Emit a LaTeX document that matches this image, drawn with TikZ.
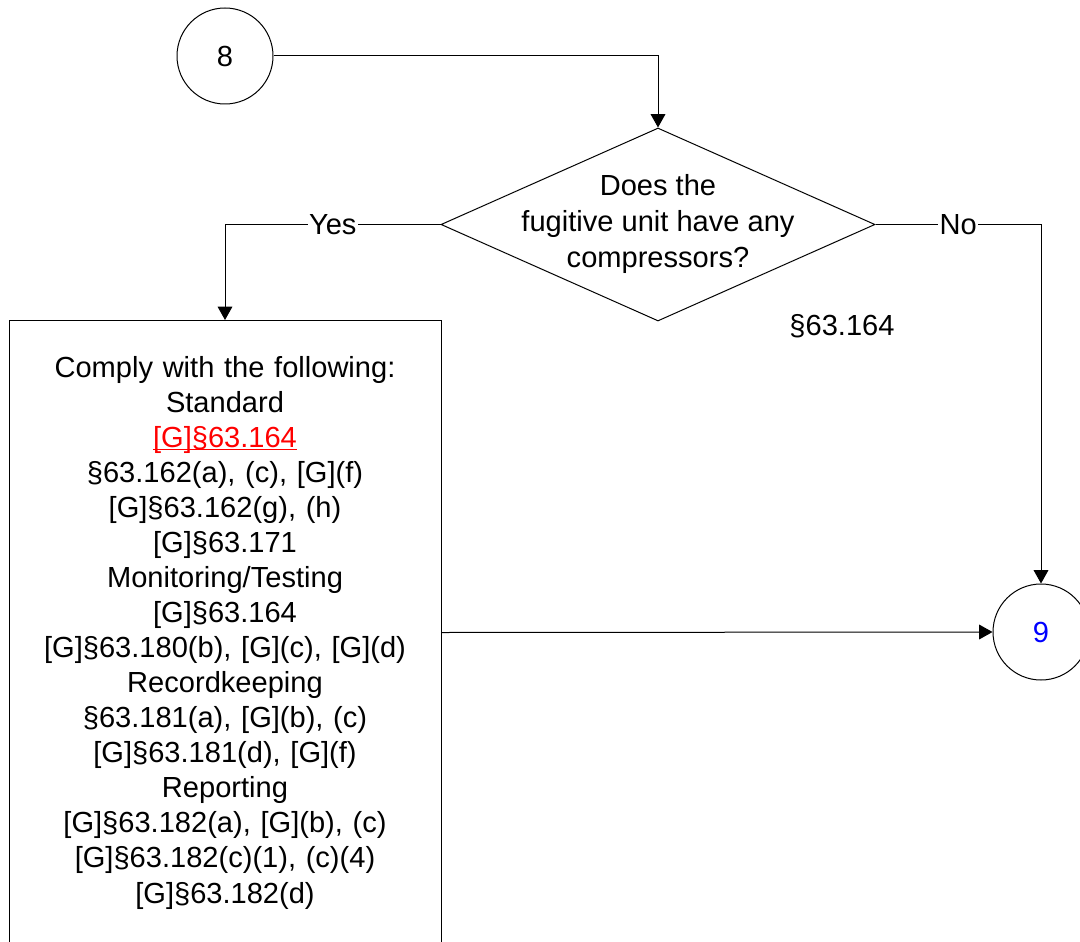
\documentclass[tikz,border=0pt]{standalone}
\usepackage{fontspec}
\setmainfont{Liberation Sans}
\usetikzlibrary{shapes.geometric,arrows.meta}
\newcommand\myredul[1]{\leavevmode{\color{red}\setbox0\hbox{#1}\rlap{\rule[-2.4pt]{\wd0}{1pt}}\box0}}
\begin{document}
\begin{tikzpicture}[x=0.75pt,y=-0.75pt,
  every node/.style={font=\fontsize{21.8}{26.3}\selectfont},
  conn/.style={draw, line width=0.75pt, -{Triangle[length=10pt,width=11pt]}},
  circ/.style={circle, draw, line width=0.75pt, minimum size=72pt, inner sep=0pt},
  lbl/.style={fill=white, inner sep=1pt},
  decision/.style={diamond, draw, line width=0.75pt, aspect=2.25, minimum width=325.5pt, minimum height=144.75pt, inner sep=0pt},
  actionbox/.style={rectangle, draw, line width=0.75pt, minimum width=324pt, minimum height=468pt, text width=318pt, align=center, inner sep=0pt}]
\clip (0,0) rectangle (1080,941);
\node[circ] (c8) at (225,56) {8};
\node[circ] (c9) at (1041,632) {\textcolor{blue}{9}};
\node[decision] (dia) at (658,224.5) {};
\node[align=center, font=\fontsize{21.8}{26.8}\selectfont] (dtext) at (658,224) {Does the\\fugitive unit have any\\compressors?};
\node (cite) at (842,326) {§63.164};
\node[actionbox, anchor=north] (box) at (225,320) {Comply with the following:\\
Standard\\
\myredul{[G]§63.164}\\
§63.162(a), (c), [G](f)\\
{[G]}§63.162(g), (h)\\
{[G]}§63.171\\
Monitoring/Testing\\
{[G]}§63.164\\
{[G]}§63.180(b), [G](c), [G](d)\\
Recordkeeping\\
§63.181(a), [G](b), (c)\\
{[G]}§63.181(d), [G](f)\\
Reporting\\
{[G]}§63.182(a), [G](b), (c)\\
{[G]}§63.182(c)(1), (c)(4)\\
{[G]}§63.182(d)};
\draw[conn] (c8.east) -| (dia.north);
\draw[conn] (dia.west) -| node[lbl, pos=0.25] (yes) {Yes} (box.north);
\draw[conn] (dia.east) -| node[lbl, pos=0.25] (no) {No} (c9.north);
\draw[conn] (box.east) -- (c9.west);
\end{tikzpicture}
\end{document}
